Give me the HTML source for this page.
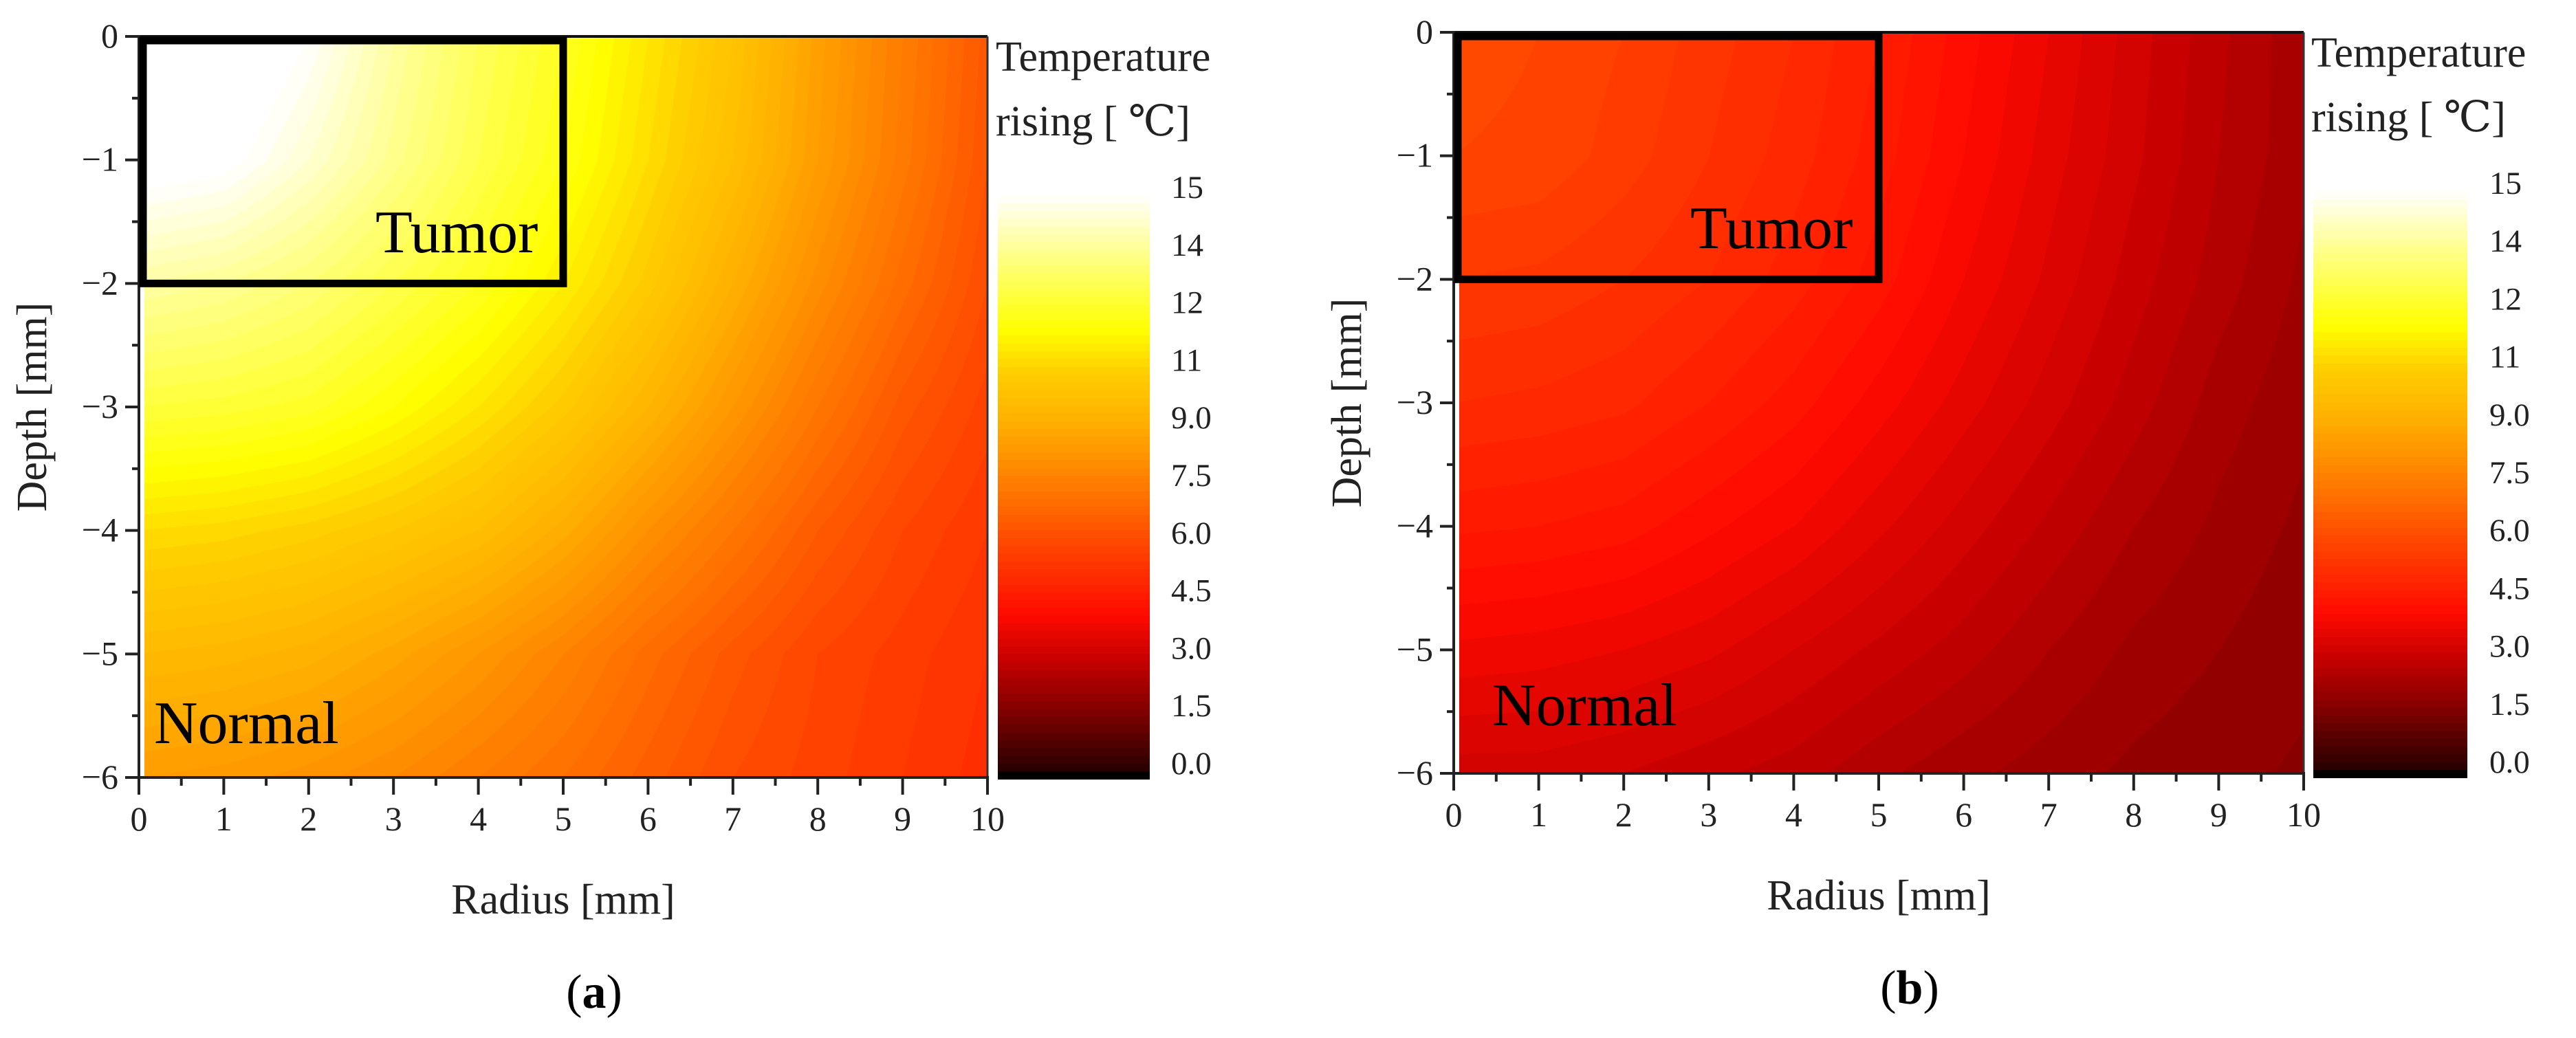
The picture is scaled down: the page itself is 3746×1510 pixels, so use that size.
<!DOCTYPE html>
<html><head><meta charset="utf-8">
<style>
html,body{margin:0;padding:0;background:#fff;}
body{width:3746px;height:1510px;position:relative;overflow:hidden;font-family:"Liberation Serif","DejaVu Serif",serif;}
svg{position:absolute;left:0;top:0;}
canvas{position:absolute;}
</style></head>
<body>
<canvas id="heatA"></canvas>
<canvas id="heatB"></canvas>
<canvas id="cbarA"></canvas>
<canvas id="cbarB"></canvas>
<svg id="svg" width="3746" height="1510" xmlns="http://www.w3.org/2000/svg"></svg>
<script>
// ---- data ----
const radiusValues = [0,1,2,3,4,5,6,7,8,9,10];
const depthValues = [0,-1,-2,-3,-4,-5,-6];
const tempA = [
 [16,15.8,15,13.8,12.8,12,11,10,8.7,7.6,6.5],
 [15.4,15.2,14.4,13.5,12.6,11.8,10.8,9.8,8.6,7.5,6.4],
 [13.8,13.6,13.2,12.6,12,11.2,10.3,9.2,8.1,7.1,6.2],
 [12.4,12.3,12.1,11.6,11,10.3,9.4,8.4,7.4,6.5,5.9],
 [10.8,10.7,10.5,10.2,9.8,9.1,8.2,7.4,6.6,6.0,5.6],
 [9.6,9.5,9.3,8.9,8.4,7.8,7.1,6.5,6.0,5.7,5.4],
 [8.6,8.5,8.3,8.0,7.6,7.2,6.7,6.2,5.9,5.6,5.3]
];
const tempB = [
 [6.1,6.0,5.8,5.5,5.2,4.8,4.3,3.8,3.3,2.85,2.45],
 [6.0,5.95,5.7,5.4,5.1,4.7,4.2,3.7,3.25,2.8,2.45],
 [5.6,5.55,5.4,5.2,4.9,4.5,4.0,3.55,3.1,2.7,2.35],
 [5.2,5.15,5.05,4.8,4.5,4.1,3.7,3.3,2.9,2.5,2.25],
 [4.65,4.6,4.5,4.25,4.0,3.65,3.3,2.95,2.6,2.35,2.15],
 [3.95,3.9,3.8,3.65,3.4,3.15,2.9,2.6,2.35,2.2,2.05],
 [3.3,3.3,3.2,3.05,2.9,2.65,2.45,2.3,2.15,2.05,1.97]
];
const xTicks = [0,1,2,3,4,5,6,7,8,9,10];
const yTicks = [0,-1,-2,-3,-4,-5,-6];
const cbarValues = [0,1.5,3,4.5,6,7.5,9,10.5,12,13.5,15];
const cbarLabels = ["0.0","1.5","3.0","4.5","6.0","7.5","9.0","11","12","14","15"];
const tumorBox = [0,5,0,-2];

// ---- colormap ----
const cmapStops=[[0,[0,0,0]],[0.015,[40,0,0]],[0.1,[115,0,0]],[0.2,[195,0,0]],[0.28,[255,10,0]],[0.41,[255,74,0]],[0.5,[255,122,0]],[0.6,[255,170,0]],[0.7,[255,208,0]],[0.77,[255,255,0]],[0.9,[255,255,140]],[1,[255,255,255]]];
function cmap(v){let t=Math.max(0,Math.min(1,v/15));
 for(let i=1;i<cmapStops.length;i++){if(t<=cmapStops[i][0]){const a=cmapStops[i-1],b=cmapStops[i];const f=(t-a[0])/(b[0]-a[0]);
  return [0,1,2].map(k=>Math.round(a[1][k]+(b[1][k]-a[1][k])*f));}}return [255,255,255];}

const NS="http://www.w3.org/2000/svg";
const svg=document.getElementById('svg');
function el(tag,attrs,parent){const e=document.createElementNS(NS,tag);for(const k in attrs)e.setAttribute(k,attrs[k]);(parent||svg).appendChild(e);return e;}

function panel(cfg){
 const {x0,x1,y0,y1,grid,canvasId,cbId,cb,letter,nameP}=cfg;
 const sx=r=>x0+(r-0)/10*(x1-x0);
 const sy=z=>y0+(0-z)/6*(y1-y0);
 const g=el('g',{});
 
 
 const cv=document.getElementById(canvasId);
 const hx=x0+8,hy=y0,hw=x1-hx,hh=y1-y0;
 cv.style.left=hx+'px';cv.style.top=hy+'px';cv.width=hw;cv.height=hh;
 const ctx=cv.getContext('2d');const img=ctx.createImageData(hw,hh);
 const nr=radiusValues.length,nz=depthValues.length;
 for(let py=0;py<hh;py++){
  const zf=py/(hh-1)*(nz-1);const zi=Math.min(nz-2,Math.floor(zf));const fz=zf-zi;
  for(let px=0;px<hw;px++){
   const rf=(px+8)/(x1-x0)*(nr-1);const ri=Math.min(nr-2,Math.floor(rf));const fr=Math.min(1,rf-ri);
   let v=grid[zi][ri]*(1-fr)*(1-fz)+grid[zi][ri+1]*fr*(1-fz)+grid[zi+1][ri]*(1-fr)*fz+grid[zi+1][ri+1]*fr*fz;
   v=Math.floor(v/0.2)*0.2+0.1;
   const c=cmap(v);const o=(py*hw+px)*4;img.data[o]=c[0];img.data[o+1]=c[1];img.data[o+2]=c[2];img.data[o+3]=255;}}
 ctx.putImageData(img,0,0);
 el('line',{x1:x0,y1:y0,x2:x1,y2:y0,stroke:'#111','stroke-width':4},g);
 el('line',{x1:x1,y1:y0,x2:x1,y2:y1,stroke:'#333','stroke-width':3},g);
 const ax=el('line',{x1:x0,y1:y0-2,x2:x0,y2:y1+2,stroke:'#222','stroke-width':4},g);
 
 const bx=el('line',{x1:x0-2,y1:y1,x2:x1+2,y2:y1,stroke:'#222','stroke-width':4},g);
 
 xTicks.forEach(t=>{const X=sx(t);
  el('line',{x1:X,y1:y1,x2:X,y2:y1+25,stroke:'#222','stroke-width':4},g);
  if(t<10)el('line',{x1:sx(t+0.5),y1:y1,x2:sx(t+0.5),y2:y1+12,stroke:'#222','stroke-width':4},g);
  const tx=el('text',{x:X,y:y1+77,'font-size':50,'text-anchor':'middle',fill:'#222'},g);tx.textContent=t;
  });
 yTicks.forEach(t=>{const Y=sy(t);
  el('line',{x1:x0-20,y1:Y,x2:x0,y2:Y,stroke:'#222','stroke-width':4},g);
  if(t>-6)el('line',{x1:x0-10,y1:sy(t-0.5),x2:x0,y2:sy(t-0.5),stroke:'#222','stroke-width':4},g);
  const tx=el('text',{x:x0-30,y:Y+16,'font-size':50,'text-anchor':'end',fill:'#222'},g);tx.textContent=t===0?'0':'\u2212'+Math.abs(t);
  });
 const bxr=el('rect',{x:sx(tumorBox[0])+6,y:sy(tumorBox[2])+6,width:sx(tumorBox[1])-sx(tumorBox[0])-6,height:sy(tumorBox[3])-sy(tumorBox[2])-6,fill:'none',stroke:'#000','stroke-width':11},g);
 
 const tu=el('text',{x:x0+344,y:y0+314,'font-size':88,fill:'#000'},g);tu.textContent='Tumor';
 
 const no=el('text',{x:x0+cfg.normalDx,y:y1+cfg.normalDy,'font-size':88,fill:'#000'},g);no.textContent='Normal';
 
 const yt=el('text',{x:0,y:0,'font-size':62,'text-anchor':'middle',fill:'#222',transform:`translate(${x0-135},${(y0+y1)/2}) rotate(-90)`},g);yt.textContent='Depth [mm]';
 
 const xt=el('text',{x:(x0+x1)/2,y:y1+198,'font-size':62,'text-anchor':'middle',fill:'#222'},g);xt.textContent='Radius [mm]';
 
 const lt=el('text',{x:(x0+x1)/2+45,y:y1+335,'font-size':70,'text-anchor':'middle',fill:'#000'},g);
 lt.innerHTML='(<tspan font-weight="bold">'+letter+'</tspan>)';
 
 const cc=document.getElementById(cbId);
 cc.style.left=cb.x+'px';cc.style.top=cb.y0+'px';cc.width=cb.x1-cb.x;cc.height=cb.y1-cb.y0;
 const c2=cc.getContext('2d');const H=cb.y1-cb.y0;
 for(let py=0;py<H;py++){let v=15*(1-py/(H-1));v=Math.floor(v/0.2)*0.2+0.1;if(py>H-12)v=0;const c=cmap(v);c2.fillStyle=`rgb(${c[0]},${c[1]},${c[2]})`;c2.fillRect(0,py,cb.x1-cb.x,1);}
 const cy=v=>cb.y1-12-v/15*(cb.y1-cb.y0-12);
 cbarValues.forEach((v,i)=>{const tx=el('text',{x:cb.lx,y:cy(v)+4,'font-size':47,fill:'#222'},g);tx.textContent=cbarLabels[i];
  });
 const t1=el('text',{x:cb.x-3,y:y0+50,'font-size':62,fill:'#222'},g);t1.textContent='Temperature';
 
 const t2=el('text',{x:cb.x-3,y:y0+144,'font-size':62,fill:'#222'},g);t2.textContent='rising [ \u2103]';
 
}
panel({x0:202,x1:1436,y0:53,y1:1131,grid:tempA,canvasId:'heatA',cbId:'cbarA',letter:'a',nameP:'a',normalDx:22,normalDy:-50,
 cb:{x:1451,x1:1672,y0:284,y1:1134,lx:1703}});
panel({x0:2114,x1:3350,y0:47,y1:1125,grid:tempB,canvasId:'heatB',cbId:'cbarB',letter:'b',nameP:'b',normalDx:56,normalDy:-70,
 cb:{x:3364,x1:3588,y0:278,y1:1132,lx:3620}});
</script>
</body></html>
